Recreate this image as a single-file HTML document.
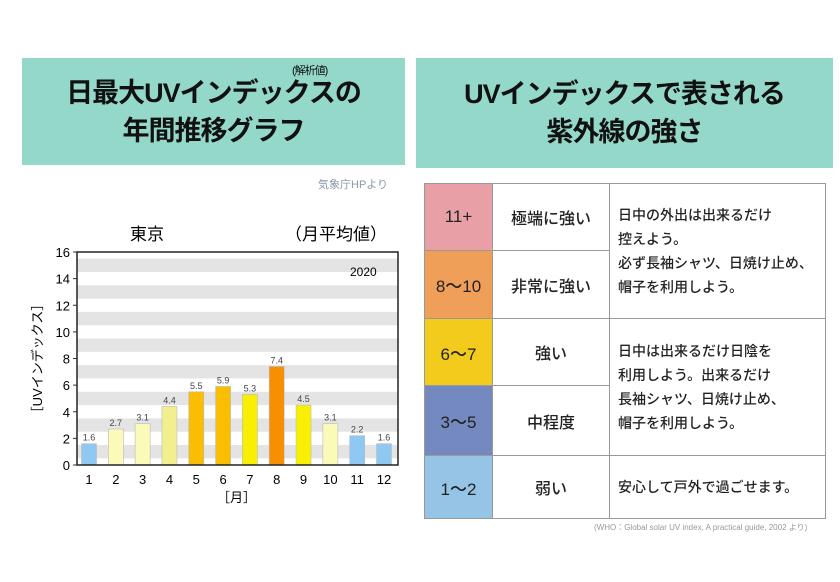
<!DOCTYPE html>
<html><head><meta charset="utf-8"><style>
body{margin:0;width:840px;height:582px;background:#fff;font-family:"Liberation Sans","Noto Sans CJK JP",sans-serif;position:relative;overflow:hidden}
.hdr{position:absolute;background:#94d8ca;display:flex;flex-direction:column;align-items:center;justify-content:center;font-weight:bold;font-size:27px;line-height:38px;color:#111;letter-spacing:-1px}
table{position:absolute;left:424px;top:183px;width:402px;height:335px;border-collapse:collapse;font-size:16px;color:#222;font-weight:500}
td{border:1.5px solid #999;text-align:center;padding:0}
td.desc{text-align:left;padding-left:8px;font-size:14px;line-height:24px}
</style></head><body>
<div class="hdr" style="left:22px;top:58px;width:383px;height:107px">
<span style="position:absolute;left:270px;top:6px;font-size:11px;line-height:14px;font-weight:normal">(解析値)</span>
<div>日最大UVインデックスの</div><div>年間推移グラフ</div></div>
<div class="hdr" style="left:416px;top:58px;width:417px;height:110px">
<div>UVインデックスで表される</div><div>紫外線の強さ</div></div>
<div style="position:absolute;left:318px;top:176px;font-size:11px;color:#8899aa">気象庁HPより</div>
<svg id="chart" width="420" height="300" style="position:absolute;left:0;top:210px" font-family="Liberation Sans, Noto Sans CJK JP, sans-serif"></svg>
<table>
<tr style="height:67px"><td style="background:#e8a0a6;width:67px;font-size:17px">11+</td><td style="width:116px">極端に強い</td><td class="desc" rowspan="2">日中の外出は出来るだけ<br>控えよう。<br>必ず長袖シャツ、日焼け止め、<br>帽子を利用しよう。</td></tr>
<tr style="height:68px"><td style="background:#ef9f58;font-size:17px">8〜10</td><td>非常に強い</td></tr>
<tr style="height:67px"><td style="background:#f2cb1c;font-size:17px">6〜7</td><td>強い</td><td class="desc" rowspan="2">日中は出来るだけ日陰を<br>利用しよう。出来るだけ<br>長袖シャツ、日焼け止め、<br>帽子を利用しよう。</td></tr>
<tr style="height:70px"><td style="background:#7389bf;font-size:17px">3〜5</td><td>中程度</td></tr>
<tr style="height:63px"><td style="background:#96c4e6;font-size:17px">1〜2</td><td>弱い</td><td class="desc">安心して戸外で過ごせます。</td></tr>
</table>
<div style="position:absolute;left:594px;top:522px;font-size:8px;color:#999">(WHO：Global solar UV index, A practical guide, 2002 より)</div>
<script>
const months=["1","2","3","4","5","6","7","8","9","10","11","12"];
const values=[1.6,2.7,3.1,4.4,5.5,5.9,5.3,7.4,4.5,3.1,2.2,1.6];
const colors=["#90c8f4","#fcfab8","#fcfab8","#f2f08c","#fbbd00","#fbbd00","#f8f000","#f88f00","#f8f000","#fcfab8","#90c8f4","#90c8f4"];
const yTicks=[0,2,4,6,8,10,12,14,16];
const svg=document.getElementById('chart');
const NS="http://www.w3.org/2000/svg";
const L=77,R=398,T=42,B=255,ymax=16;
const y=v=>B-(v/ymax)*(B-T);
const x=i=>89+i*(384-89)/11;
function mk(t,a,txt){const e=document.createElementNS(NS,t);for(const k in a)e.setAttribute(k,a[k]);if(txt!==undefined)e.textContent=txt;svg.appendChild(e);return e;}
let e;
e=mk('text',{x:130,y:30,'font-size':17},'東京');


e=mk('text',{x:285,y:30,'font-size':17},'（月平均値）');


for(let k=0;k<=14;k+=2){
 e=mk('rect',{x:L,y:y(k+1.5),width:R-L,height:y(k+0.5)-y(k+1.5),fill:'#e4e4e4'});
 
 
}
e=mk('text',{x:350,y:66,'font-size':12},'2020');


values.forEach((v,i)=>{
 e=mk('rect',{x:x(i)-7.5,y:y(v),width:15,height:B-y(v),fill:colors[i],stroke:'#bbb','stroke-width':0.6});
 
 
 e=mk('text',{x:x(i),y:y(v)-3,'font-size':9,'text-anchor':'middle',fill:'#444'},v.toFixed(1));
 
 
 e=mk('text',{x:x(i),y:B+19,'font-size':13,'text-anchor':'middle'},months[i]);
 
 
});
yTicks.forEach(t=>{
 e=mk('text',{x:L-7,y:y(t)+5,'font-size':13,'text-anchor':'end'},t);
 
 
 mk('line',{x1:L,x2:L-4,y1:y(t),y2:y(t),stroke:'#333'});
});
e=mk('rect',{x:L,y:T,width:R-L,height:B-T,fill:'none',stroke:'#222','stroke-width':1.5});


e=mk('text',{x:x(5.5),y:B+37,'font-size':13,'text-anchor':'middle'},'［月］');


e=mk('text',{x:0,y:0,'font-size':13,'text-anchor':'middle',transform:'translate(42,'+((T+B)/2)+') rotate(-90)'},'［UVインデックス］');


</script>
</body></html>
